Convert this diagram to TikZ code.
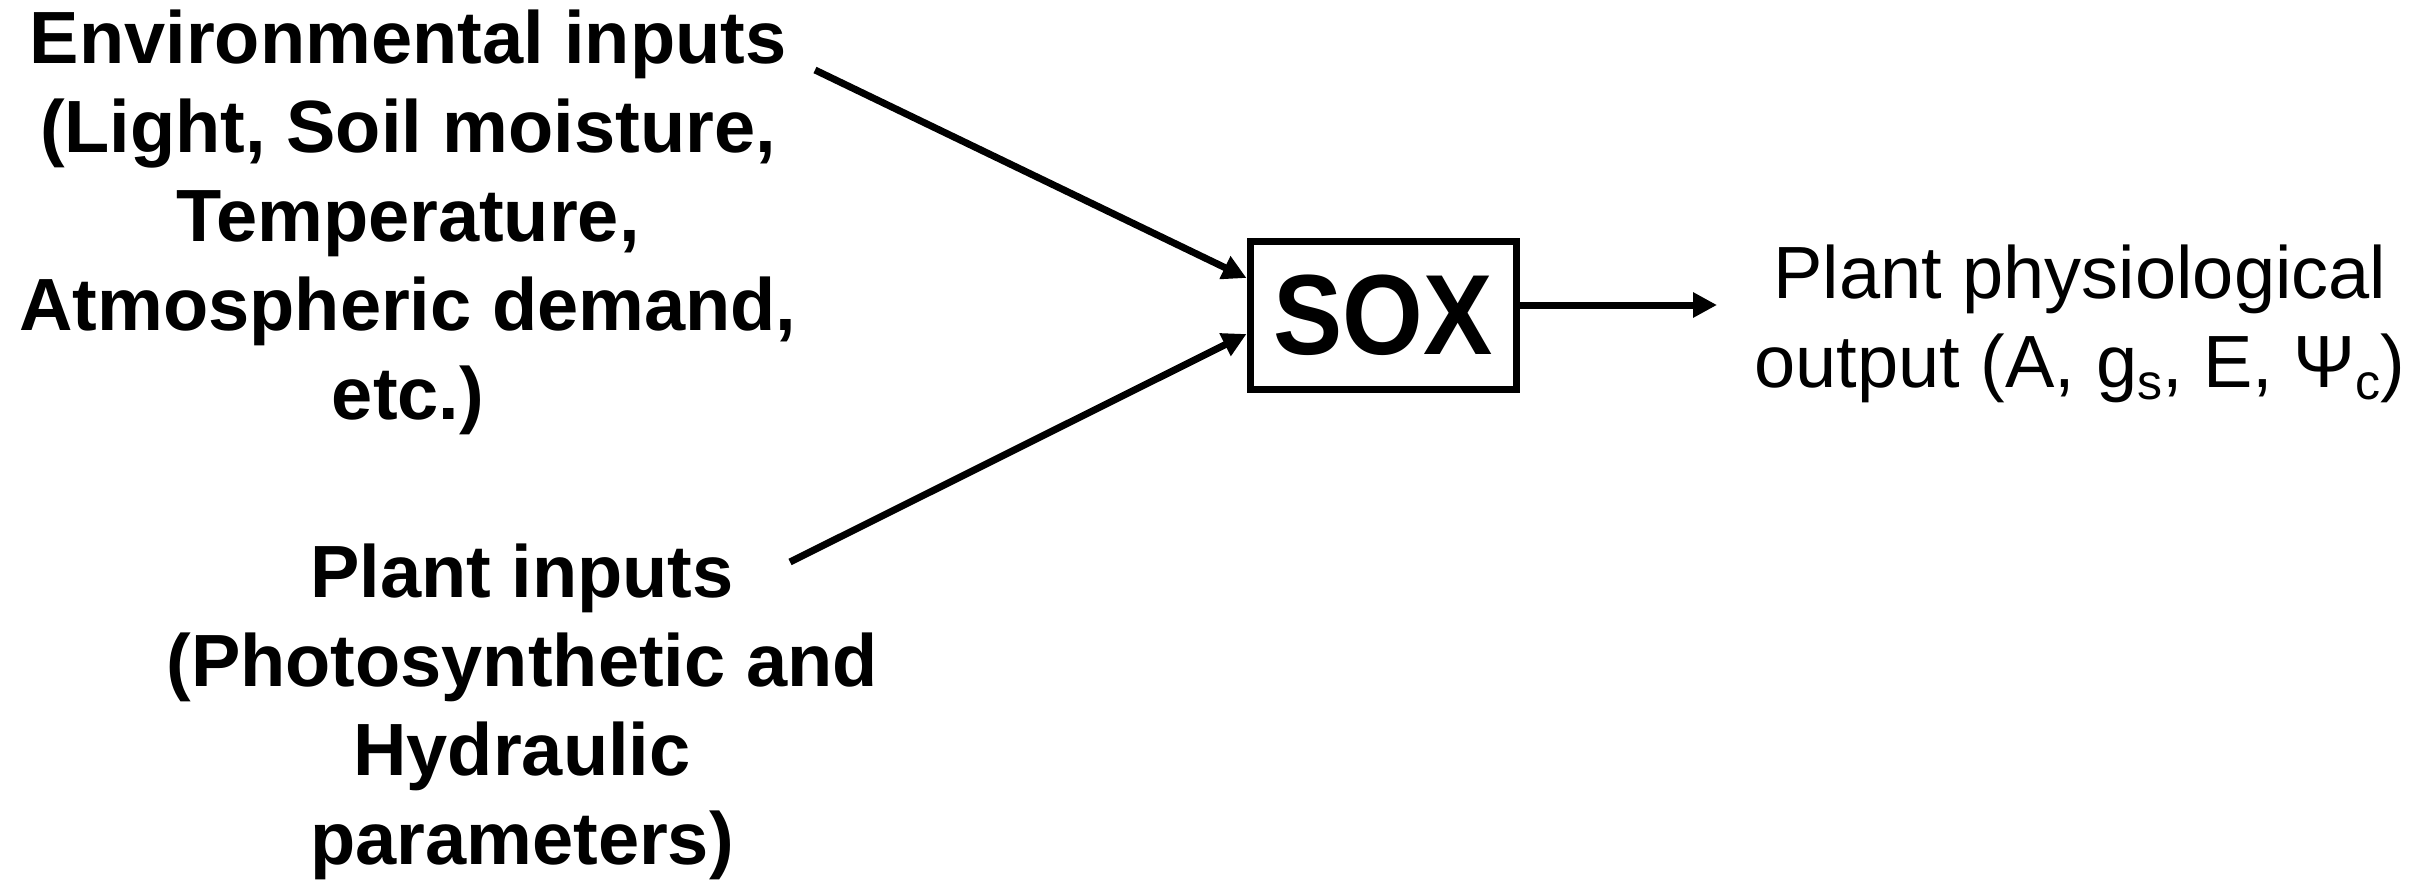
\documentclass[tikz,border=0pt]{standalone}
\usepackage{fontspec}
\usepackage{graphicx}
\setmainfont{Liberation Sans}
\usetikzlibrary{arrows.meta,calc}

% centred block of lines whose baseline is that of its first line
\newcommand\stacklines[1]{\begin{tabular}[t]{@{}c@{}}#1\end{tabular}}
% lowered, smaller index letter
\newcommand\lowsub[1]{\raisebox{-12pt}{\fontsize{50}{60}\selectfont #1}}

\begin{document}
\begin{tikzpicture}[x=1pt,y=-1pt,
  inputtext/.style={inner sep=0pt, anchor=base,
    font=\fontsize{74}{89}\selectfont\bfseries},
  outputtext/.style={inner sep=0pt, anchor=base,
    font=\fontsize{74}{89}\selectfont},
  modelbox/.style={draw, line width=7pt, inner sep=0pt,
    minimum width=266pt, minimum height=148pt,
    font=\fontsize{114}{130}\selectfont\bfseries},
  conn/.style={line width=7pt, -{Triangle[length=24pt,width=24pt]}}
]
\useasboundingbox (0,0) rectangle (2433,880);

% model block
\node[modelbox] (sox) at (1383,315) {\scalebox{0.91}[1]{SOX}};

% inputs
\node[inputtext] (env) at (408,64) {\stacklines{Environmental inputs\\
  (Light, Soil moisture,\\ Temperature,\\ Atmospheric demand,\\ etc.)}};
\node[inputtext] (plant) at (522,597) {\stacklines{Plant inputs\\
  (Photosynthetic and\\ Hydraulic\\ parameters)}};

% output
\node[outputtext] (out) at (2080,298) {\stacklines{Plant physiological\\
  output (A, g\lowsub{s}, E, Ψ\lowsub{c})}};

% connector ends
\coordinate (envend) at (815,70);
\coordinate (plantend) at (790,562);
\coordinate (outend) at (1717,305);

\draw[conn] (envend) -- ([yshift=37pt]sox.west);
\draw[conn] (plantend) -- ([yshift=-19pt]sox.west);
\draw[conn] ([yshift=10pt]sox.east) -- (outend);
\end{tikzpicture}
\end{document}
